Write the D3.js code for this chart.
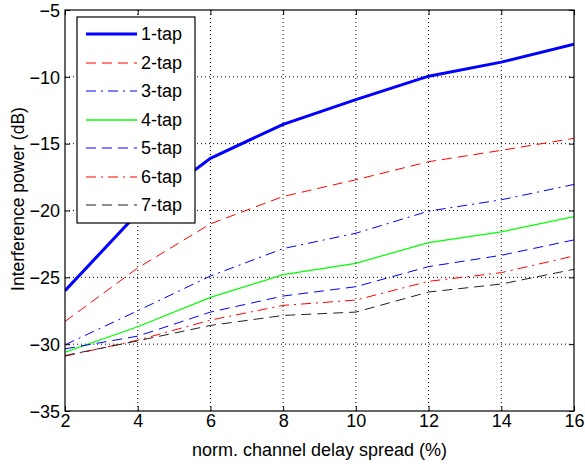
<!DOCTYPE html>
<html><head><meta charset="utf-8">
<script src="https://cdn.jsdelivr.net/npm/d3@7"></script>
<style>body{margin:0;background:#fff}svg{display:block}text{font-family:"Liberation Sans",Arial,sans-serif;fill:#000}</style>
</head><body><svg id="c" width="585" height="466"></svg>
<script>
const xValues = [2, 4, 6, 8, 10, 12, 14, 16];
const seriesNames = ["1-tap","2-tap","3-tap","4-tap","5-tap","6-tap","7-tap"];
const tap1 = [-26.0, -20.2, -16.1, -13.55, -11.7, -9.95, -8.9, -7.55];
const tap2 = [-28.3, -24.3, -21.0, -18.95, -17.7, -16.35, -15.5, -14.6];
const tap3 = [-30.05, -27.5, -24.9, -22.85, -21.7, -20.05, -19.2, -18.05];
const tap4 = [-30.6, -28.7, -26.5, -24.8, -23.95, -22.4, -21.6, -20.45];
const tap5 = [-30.35, -29.4, -27.6, -26.4, -25.7, -24.2, -23.35, -22.2];
const tap6 = [-30.9, -29.7, -28.2, -27.1, -26.7, -25.3, -24.65, -23.4];
const tap7 = [-30.85, -29.75, -28.6, -27.85, -27.6, -26.1, -25.5, -24.4];
const xTicks = [2,4,6,8,10,12,14,16];
const yTicks = [-35,-30,-25,-20,-15,-10,-5];
const seriesValues = [tap1,tap2,tap3,tap4,tap5,tap6,tap7];
const styles = [
  {color:"#0000ff", width:3, dash:null},
  {color:"#ff0000", width:1, dash:"10,6"},
  {color:"#0000ff", width:1, dash:"10,5,2,5"},
  {color:"#00ff00", width:1.2, dash:null},
  {color:"#0000ff", width:1, dash:"10,6"},
  {color:"#ff0000", width:1, dash:"10,5,2,5"},
  {color:"#222222", width:1, dash:"10,6"}
];
const L=65, R=574, T=10, B=411;
const svg = d3.select("#c");
const x = d3.scaleLinear().domain([2,16]).range([L,R]);
const y = d3.scaleLinear().domain([-35,-5]).range([B,T]);

// grid
const g = svg.append("g");
xTicks.forEach(v=>{ if(v>2&&v<16) g.append("line").attr("x1",x(v)).attr("x2",x(v)).attr("y1",T).attr("y2",B).attr("stroke","#000").attr("stroke-width",1).attr("stroke-dasharray","1,3");});
yTicks.forEach(v=>{ if(v>-35&&v<-5) g.append("line").attr("x1",L).attr("x2",R).attr("y1",y(v)).attr("y2",y(v)).attr("stroke","#000").attr("stroke-width",1).attr("stroke-dasharray","1,3");});

// lines
svg.append("clipPath").attr("id","cp").append("rect").attr("x",L).attr("y",T).attr("width",R-L).attr("height",B-T);
const line = d3.line().x((d,i)=>x(xValues[i])).y(d=>y(d));
const lg = svg.append("g").attr("clip-path","url(#cp)");
seriesValues.forEach((s,i)=>{
  const st = styles[i];
  lg.append("path").datum(s).attr("d",line).attr("fill","none").attr("stroke",st.color).attr("stroke-width",st.width).attr("stroke-dasharray",st.dash);
});

// axes
const ax = svg.append("g").attr("transform",`translate(0,${B})`).call(d3.axisBottom(x).tickValues(xTicks).tickSize(-5).tickPadding(3).tickFormat(d3.format("d")));
const axT = svg.append("g").attr("transform",`translate(0,${T})`).call(d3.axisTop(x).tickValues(xTicks).tickSize(-5).tickFormat(""));
const ay = svg.append("g").attr("transform",`translate(${L},0)`).call(d3.axisLeft(y).tickValues(yTicks).tickSize(-5).tickPadding(5).tickFormat(d3.format("d")));
const ayR = svg.append("g").attr("transform",`translate(${R},0)`).call(d3.axisRight(y).tickValues(yTicks).tickSize(-5).tickFormat(""));
[ax,axT,ay,ayR].forEach(a=>{a.select(".domain").remove(); a.selectAll("line").attr("stroke","#000");});
ax.selectAll("text").attr("font-size",18).attr("font-family","Liberation Sans, Arial").attr("fill","#000");
ay.selectAll("text").attr("font-size",18).attr("font-family","Liberation Sans, Arial").attr("fill","#000").attr("dy","0.35em");
svg.append("rect").attr("x",L).attr("y",T).attr("width",R-L).attr("height",B-T).attr("fill","none").attr("stroke","#000").attr("stroke-width",1.2);

// labels
svg.append("text").attr("x",(L+R)/2).attr("y",456).attr("text-anchor","middle").attr("font-size",18).text("norm. channel delay spread (%)");
svg.append("text").attr("transform",`translate(24,199) rotate(-90)`).attr("text-anchor","middle").attr("font-size",17.5).text("Interference power (dB)");

// legend
const lgX=77, lgY=17, lgW=118, lgH=206;
svg.append("rect").attr("x",lgX).attr("y",lgY).attr("width",lgW).attr("height",lgH).attr("fill","#fff").attr("stroke","#000").attr("stroke-width",1.2);
seriesNames.forEach((n,i)=>{
  const cy = Math.round(34 + i*28.5);
  const st = styles[i];
  svg.append("line").attr("x1",86).attr("x2",137).attr("y1",cy).attr("y2",cy).attr("stroke",st.color).attr("stroke-width",st.width === 1.2 ? 1.3 : (st.width===1?1.2:st.width)).attr("stroke-dasharray",st.dash);
  svg.append("text").attr("x",141).attr("y",cy).attr("dy","0.35em").attr("font-size",18).text(n);
});
</script></body></html>
